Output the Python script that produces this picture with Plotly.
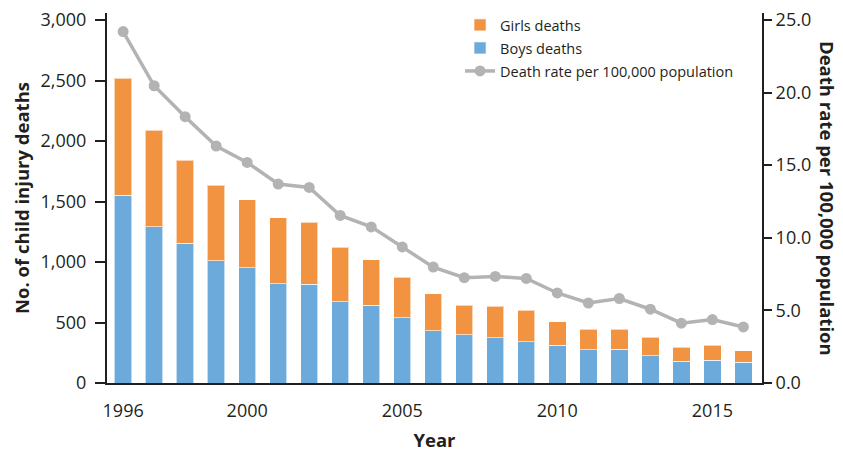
import plotly.graph_objects as go

years = list(range(1996, 2017))
boys_deaths = [1552, 1293, 1153, 1012, 954, 822, 816, 673, 643, 541, 430,
               400, 375, 342, 312, 276, 281, 227, 180, 188, 171]
girls_deaths = [966, 795, 689, 621, 560, 543, 511, 447, 377, 331, 306,
                243, 259, 259, 196, 168, 163, 153, 115, 124, 94]
death_rate = [24.2, 20.47, 18.34, 16.32, 15.19, 13.70, 13.47, 11.54, 10.75, 9.37, 7.98,
              7.25, 7.34, 7.20, 6.20, 5.51, 5.82, 5.08, 4.12, 4.37, 3.86]
x_tick_vals = [1996, 2000, 2005, 2010, 2015]
left_ticks = [0, 500, 1000, 1500, 2000, 2500, 3000]
right_ticks = [0, 5, 10, 15, 20, 25]

FONT = "Open Sans"
INK = "#231F20"
ORANGE = "#F29341"
BLUE = "#6BAADB"
GREY = "#B3B3B3"

fig = go.Figure()
fig.add_trace(go.Bar(x=years, y=boys_deaths, name="Boys deaths", marker_color=BLUE,
                     marker_line=dict(color="rgba(255,255,255,0.6)", width=1),
                     width=0.56, legend="legend2"))
fig.add_trace(go.Bar(x=years, y=girls_deaths, name="Girls deaths", marker_color=ORANGE,
                     marker_line=dict(color="rgba(255,255,255,0.6)", width=1),
                     width=0.56, legend="legend"))
fig.add_trace(go.Scatter(x=years, y=death_rate, name="Death rate per 100,000 population",
                         mode="lines+markers", yaxis="y2",
                         line=dict(color=GREY, width=3.5),
                         marker=dict(color=GREY, size=11), legend="legend3"))

leg_common = dict(x=0.539, xanchor="left", yanchor="middle",
                  font=dict(size=14.5, color=INK), bgcolor="rgba(0,0,0,0)", itemwidth=30)

fig.update_layout(
    barmode="stack",
    width=835, height=444,
    margin=dict(l=99, r=81, t=5, b=69, autoexpand=False),
    paper_bgcolor="white", plot_bgcolor="white",
    font=dict(family=FONT, color=INK, size=18),
    showlegend=True,
    legend=dict(y=0.9676, **leg_common),
    legend2=dict(y=0.9054, **leg_common),
    legend3=dict(y=0.8432, **leg_common),
    xaxis=dict(range=[1995.48, 2016.6], tickvals=x_tick_vals, showgrid=False,
               showline=True, linecolor=INK, linewidth=2, ticks="",
               ticklabelstandoff=10, zeroline=False, automargin=False,
               ticklabeloverflow="allow",
               title=dict(text="<b>Year</b>", font=dict(size=18.5, color=INK), standoff=17)),
    yaxis=dict(range=[0, 3058], tickvals=left_ticks, tickformat=",d", showgrid=False,
               showline=True, linecolor=INK, linewidth=2, ticks="outside", ticklen=10,
               tickcolor=INK, tickwidth=1.5, zeroline=False, automargin=False,
               ticklabelstandoff=5, ticklabeloverflow="allow"),
    yaxis2=dict(range=[0, 25.48], tickvals=right_ticks, tickformat=".1f", overlaying="y",
                side="right", showgrid=False, showline=True, linecolor=INK, linewidth=2,
                ticks="outside", ticklen=8, tickcolor=INK, tickwidth=1.5, zeroline=False,
                automargin=False, ticklabeloverflow="allow"),
    annotations=[
        dict(text="<b>No. of child injury deaths</b>", textangle=-90,
             xref="paper", yref="paper", x=0, xshift=-86, y=0.5,
             xanchor="center", yanchor="middle",
             showarrow=False, font=dict(size=18.5, color=INK)),
        dict(text="<b>Death rate per 100,000 population</b>", textangle=90,
             xref="paper", yref="paper", x=1.0, xshift=66, y=0.5,
             xanchor="center", yanchor="middle",
             showarrow=False, font=dict(size=18.5, color=INK)),
    ],
)

fig.write_html("out.html")
